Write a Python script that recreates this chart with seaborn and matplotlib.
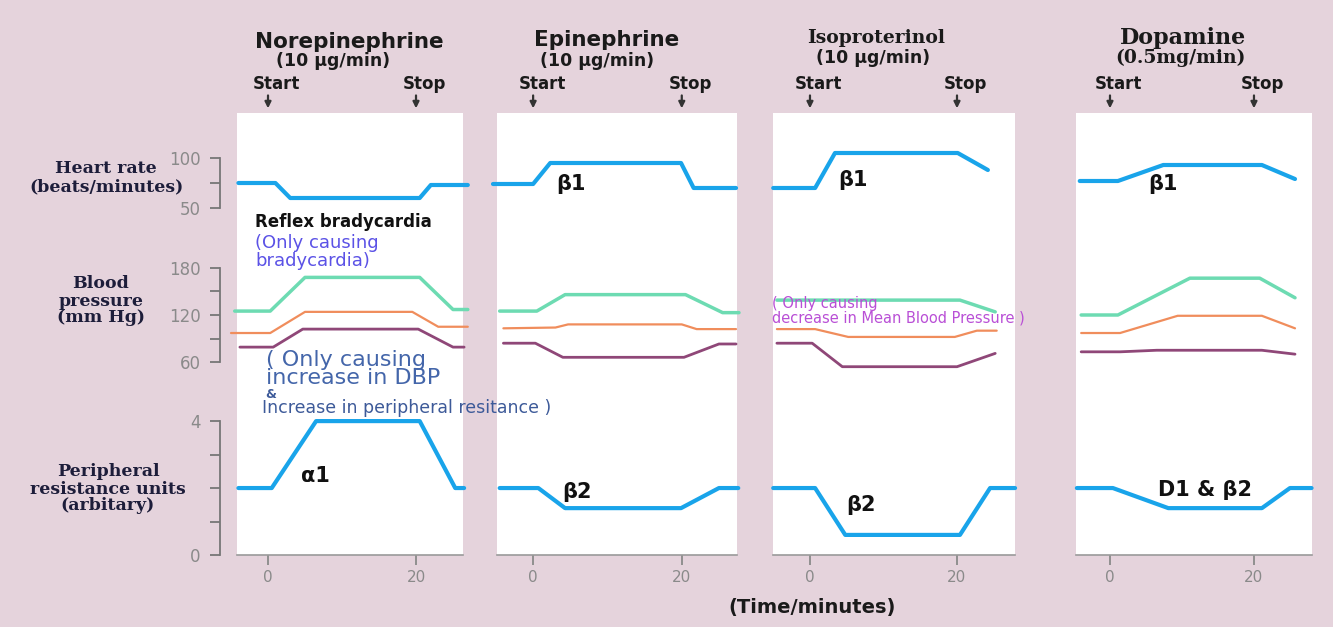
import matplotlib
matplotlib.use("Agg")
import matplotlib.pyplot as plt
import seaborn as sns

sns.set_style("white")
plt.rcParams['font.family'] = ['DejaVu Sans']

# --- data (time in minutes) ---
drugs = ["Norepinephrine", "Epinephrine", "Isoproterinol", "Dopamine"]
doses = ["(10 µg/min)", "(10 µg/min)", "(10 µg/min)", "(0.5mg/min)"]

# heart rate (beats/min)
hr_t = [[-4, 1, 3, 20.5, 22, 27],
        [-5.4, 0, 2.3, 19.9, 21.6, 27.3],
        [-5, 0.7, 3.4, 20.1, 24.2],
        [-4.2, 1.1, 7.4, 21.1, 25.7]]
hr_v = [[75, 75, 60, 60, 73, 73],
        [74, 74, 95, 95, 70, 70],
        [70, 70, 105, 105, 88],
        [77, 77, 93, 93, 79]]

# systolic pressure (mm Hg)
sys_t = [[-4.5, 0.3, 5, 20.5, 25, 27],
         [-4.5, 0.5, 4.3, 20.5, 25.5, 27.7],
         [-4.5, 20.4, 25.2],
         [-4, 1.1, 11.1, 20.8, 25.7]]
sys_v = [[125, 125, 168, 168, 127, 127],
         [125, 125, 146, 146, 123, 123],
         [139, 139, 124],
         [120, 120, 167, 167, 142]]

# mean pressure (mm Hg)
mean_t = [[-5, 0.3, 5, 19.5, 23, 27],
          [-4, 3, 4.7, 20, 22, 27.3],
          [-4.5, 0.7, 5.2, 19.7, 22.7, 25.4],
          [-4, 1.4, 9.4, 21.1, 25.7]]
mean_v = [[97, 97, 124, 124, 105, 105],
          [103, 104, 108, 108, 102, 102],
          [102, 102, 92, 92, 100, 100],
          [97, 97, 119, 119, 103]]

# diastolic pressure (mm Hg)
dia_t = [[-3.8, 0.7, 4.7, 20.3, 25, 26.5],
         [-4, 0.3, 4, 20.3, 25, 27.3],
         [-4.5, 0.3, 4.4, 20, 25.2],
         [-4, 1.4, 6.5, 21.1, 25.7]]
dia_v = [[79, 79, 102, 102, 79, 79],
         [84, 84, 66, 66, 83, 83],
         [84, 84, 54, 54, 71],
         [73, 73, 75, 75, 70]]

# peripheral resistance (arbitrary units)
pr_t = [[-4, 0.5, 6.5, 20.5, 25.3, 26.5],
        [-4.5, 0.7, 4.3, 19.9, 25, 27.6],
        [-5, 0.7, 4.8, 20.4, 24.5, 27.9],
        [-4.6, 0.4, 8.1, 21.1, 25, 28]]
pr_v = [[2, 2, 4, 4, 2, 2],
        [2, 2, 1.4, 1.4, 2, 2],
        [2, 2, 0.6, 0.6, 2, 2],
        [2, 2, 1.4, 1.4, 2, 2]]

time_ticks = [0, 20]
hr_ticks, hr_labels = [50, 75, 100], ["50", "", "100"]
bp_ticks, bp_labels = [60, 90, 120, 150, 180], ["60", "", "120", "", "180"]
pr_ticks, pr_labels = [0, 1, 2, 3, 4], ["0", "", "", "", "4"]

# --- styling / layout ---
BG = '#e5d3dc'
BLUE, GREEN, ORANGE, PURPLE = '#19a4ea', '#6ddbb2', '#f08d5c', '#8f4778'
TICK = '#8a8a8a'
NAVY = '#1d1d3a'

W, H = 1333, 627
fig = plt.figure(figsize=(W / 100, H / 100), dpi=100, facecolor=BG)


def rect(x0, y0, x1, y1):
    return [x0 / W, 1 - y1 / H, (x1 - x0) / W, (y1 - y0) / H]


def fx(px):
    return px / W


def fy(py):
    return 1 - py / H


cols = [(237, 463), (497, 737), (773, 1015), (1076, 1312)]
rows = [(113, 230), (230, 400), (400, 555)]
row_lims = [(28, 145), (11.5, 228.5), (0, 4.63)]
col_xlims = [(-4.19, 26.35), (-4.86, 27.43), (-5.03, 27.89), (-4.72, 28.06)]

for c in range(4):
    axes = []
    for r in range(3):
        ax = fig.add_axes(rect(cols[c][0], rows[r][0], cols[c][1], rows[r][1]))
        ax.set_facecolor('white')
        ax.set_xlim(*col_xlims[c])
        ax.set_ylim(*row_lims[r])
        for s in ax.spines.values():
            s.set_visible(False)
        ax.set_xticks([])
        ax.set_yticks([])
        axes.append(ax)
    ax_hr, ax_bp, ax_pr = axes

    sns.lineplot(x=hr_t[c], y=hr_v[c], ax=ax_hr, color=BLUE, lw=3, estimator=None, clip_on=False)
    sns.lineplot(x=sys_t[c], y=sys_v[c], ax=ax_bp, color=GREEN, lw=2.5, estimator=None, clip_on=False)
    sns.lineplot(x=mean_t[c], y=mean_v[c], ax=ax_bp, color=ORANGE, lw=1.6, estimator=None, clip_on=False)
    sns.lineplot(x=dia_t[c], y=dia_v[c], ax=ax_bp, color=PURPLE, lw=2, estimator=None, clip_on=False)
    sns.lineplot(x=pr_t[c], y=pr_v[c], ax=ax_pr, color=BLUE, lw=3, estimator=None, clip_on=False)
    for ax in axes:
        ax.set_xlabel('')
        ax.set_ylabel('')

    # bottom time axis
    ax_pr.spines['bottom'].set_visible(True)
    ax_pr.spines['bottom'].set_color('#9a9a9a')
    ax_pr.spines['bottom'].set_linewidth(1.2)
    ax_pr.set_xticks(time_ticks)
    ax_pr.set_xticklabels([str(t) for t in time_ticks])
    ax_pr.tick_params(axis='x', bottom=True, direction='out', length=7, width=1.3,
                      color='#8a8a8a', labelcolor=TICK, labelsize=11, pad=4)

    # start / stop arrows
    for t, lab in zip(time_ticks, ["Start", "Stop"]):
        ax_hr.annotate('', xy=(t, 1.04), xytext=(t, 1.15),
                       xycoords=ax_hr.get_xaxis_transform(),
                       arrowprops=dict(arrowstyle='-|>', color='#333333', lw=1.6,
                                       mutation_scale=9, shrinkA=0, shrinkB=0),
                       annotation_clip=False)
        ax_hr.text(t + 1.2, 1.25, lab, transform=ax_hr.get_xaxis_transform(),
                   ha='center', va='center', fontsize=12, fontweight='bold', color='#1a1a1a')

# left tick brackets
for r, (ticks, labels) in enumerate([(hr_ticks, hr_labels), (bp_ticks, bp_labels),
                                     (pr_ticks, pr_labels)]):
    ax = fig.add_axes(rect(220, rows[r][0], 226, rows[r][1]))
    ax.set_facecolor('none')
    ax.set_ylim(*row_lims[r])
    for name, s in ax.spines.items():
        s.set_visible(name == 'left')
    ax.spines['left'].set_bounds(ticks[0], ticks[-1])
    ax.spines['left'].set_color('#777777')
    ax.spines['left'].set_linewidth(1.3)
    ax.set_xticks([])
    ax.set_yticks(ticks)
    ax.set_yticklabels(labels)
    ax.tick_params(axis='y', left=True, direction='out', length=7, width=1.3,
                   color='#777777', labelcolor=TICK, labelsize=12, pad=7)

# row labels
serif = ['DejaVu Serif']
row_kw = dict(ha='center', va='center', fontsize=12.5, fontweight='bold', color=NAVY,
              family=serif, linespacing=1.0)
fig.text(fx(106), fy(168), "Heart rate", **row_kw)
fig.text(fx(106), fy(187), "(beats/minutes)", **row_kw)
fig.text(fx(101), fy(301), "Blood\npressure\n(mm Hg)", **row_kw)
fig.text(fx(108), fy(489), "Peripheral\nresistance units\n(arbitary)", **row_kw)

# panel titles
title_pos = [(349, 42, 333, 61), (607, 40, 597, 61), (876, 38, 873, 58), (1183, 38, 1180, 58)]
for c, (x1, y1, x2, y2) in enumerate(title_pos):
    if c < 2:
        fig.text(fx(x1), fy(y1), drugs[c], ha='center', va='center', fontsize=15.5,
                 fontweight='bold', color='#1a1a1a')
    else:
        fig.text(fx(x1), fy(y1), drugs[c], ha='center', va='center',
                 fontsize=13.5 if c == 2 else 16, fontweight='bold', color='#1a1a1a',
                 family=serif)
    fig.text(fx(x2), fy(y2), doses[c], ha='center', va='center',
             fontsize=13.5 if c == 3 else 12.5, fontweight='bold', color='#1a1a1a',
             family=serif if c == 3 else None)

# receptor labels
recept = [("β1", 571, 184), ("β1", 853, 180), ("β1", 1163, 184),
          ("α1", 315, 476), ("β2", 577, 492), ("β2", 861, 505), ("D1 & β2", 1205, 490)]
for txt, x, y in recept:
    fig.text(fx(x), fy(y), txt, ha='center', va='center', fontsize=15,
             fontweight='bold', color='#111111')

# notes
fig.text(fx(255), fy(222), "Reflex bradycardia", ha='left', va='center', fontsize=12,
         fontweight='bold', color='#111111')
fig.text(fx(255), fy(252), "(Only causing\nbradycardia)", ha='left', va='center',
         fontsize=13, color='#5b52e6', linespacing=0.95)
fig.text(fx(266), fy(369), "( Only causing\nincrease in DBP", ha='left', va='center',
         fontsize=16, color='#4466aa', linespacing=0.9)
fig.text(fx(265), fy(395), "&", ha='left', va='center', fontsize=9,
         fontweight='bold', color='#3d5a99')
fig.text(fx(262), fy(408), "Increase in peripheral resitance )", ha='left', va='center',
         fontsize=12.5, color='#3d5a99')
fig.text(fx(772), fy(311), "( Only causing\ndecrease in Mean Blood Pressure )", ha='left',
         va='center', fontsize=10.5, color='#b94fd6', linespacing=0.95)

fig.text(fx(812), fy(607), "(Time/minutes)", ha='center', va='center', fontsize=14,
         fontweight='bold', color='#1a1a1a')

fig.savefig("out.png", dpi=100, facecolor=BG)
